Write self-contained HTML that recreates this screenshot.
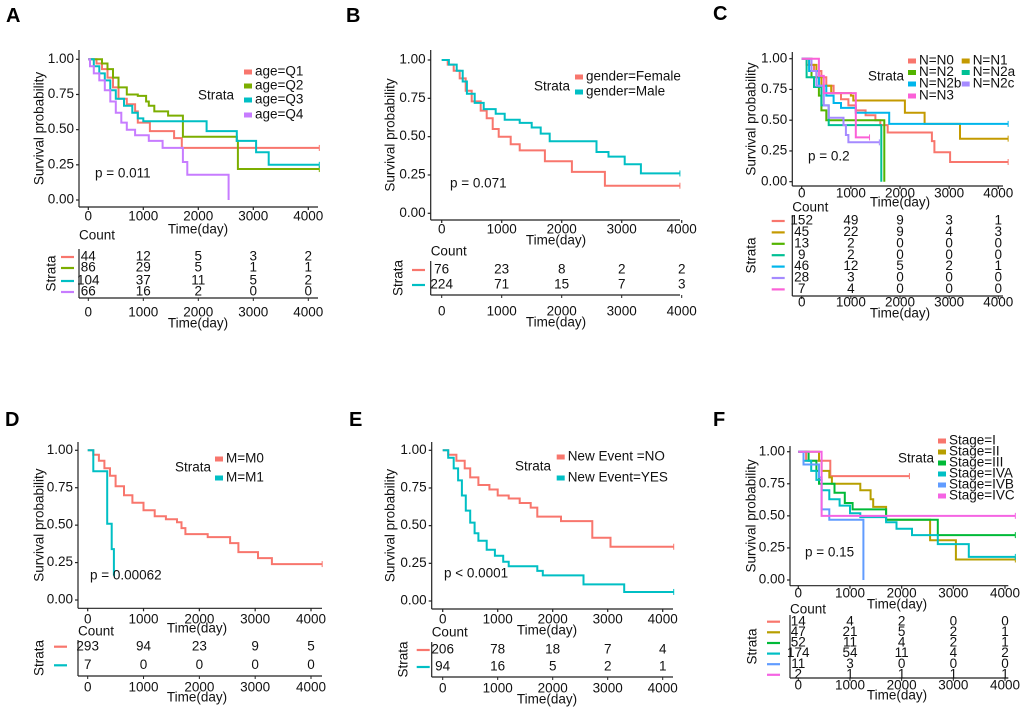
<!DOCTYPE html>
<html><head><meta charset="utf-8"><style>
html,body{margin:0;padding:0;background:#fff;}
svg{display:block;font-family:"Liberation Sans",Arial,sans-serif;}
</style></head><body>
<svg id="fig" width="1020" height="711" viewBox="0 0 1020 711" xmlns="http://www.w3.org/2000/svg"></svg>
<script>
// ---------- DATA ----------
const ticksX=[0,1000,2000,3000,4000];
const ticksXLabels=["0","1000","2000","3000","4000"];
const ticksY=[0,0.25,0.5,0.75,1];
const ticksYLabels=["0.00","0.25","0.50","0.75","1.00"];

// Panel A
const aNames=["age=Q1","age=Q2","age=Q3","age=Q4"];
const aQ1T=[0,150,250,350,450,550,700,850,900,1120,1560,1650,1700,4200];
const aQ1S=[1,0.97,0.93,0.87,0.80,0.72,0.68,0.63,0.55,0.49,0.44,0.44,0.37,0.37];
const aQ2T=[0,200,250,350,450,550,700,900,1050,1100,1200,1450,1720,2700,2720,4200];
const aQ2S=[1,1,0.97,0.93,0.87,0.80,0.75,0.74,0.70,0.67,0.63,0.60,0.45,0.42,0.22,0.22];
const aQ3T=[0,100,200,300,400,500,650,800,900,1000,2150,2700,3050,3280,4200];
const aQ3S=[1,0.95,0.90,0.85,0.78,0.72,0.67,0.62,0.58,0.56,0.49,0.42,0.34,0.25,0.25];
const aQ4T=[0,30,100,200,300,400,500,600,700,850,1100,1350,1720,1800,2550,2550];
const aQ4S=[1,0.95,0.90,0.85,0.78,0.70,0.62,0.55,0.50,0.46,0.42,0.37,0.27,0.18,0.18,0];
const aRisk=[[44,12,5,3,2],[86,29,5,1,1],[104,37,11,5,2],[66,16,2,0,0]];

// Panel B
const bNames=["gender=Female","gender=Male"];
const bFT=[0,100,200,300,400,500,650,750,850,950,1150,1300,1720,2170,2720,3970];
const bFS=[1,0.97,0.93,0.88,0.80,0.73,0.67,0.62,0.55,0.50,0.45,0.41,0.34,0.27,0.18,0.18];
const bMT=[0,120,250,350,420,550,700,900,1050,1300,1500,1650,1800,2580,2780,3050,3320,3970];
const bMS=[1,0.97,0.93,0.86,0.78,0.72,0.68,0.65,0.61,0.59,0.56,0.52,0.47,0.40,0.37,0.32,0.26,0.26];
const bRisk=[[76,23,8,2,2],[224,71,15,7,3]];

// Panel C
const cNames=["N=N0","N=N1","N=N2","N=N2a","N=N2b","N=N2c","N=N3"];
const cN0T=[0,100,250,400,500,650,800,950,1100,1300,1500,1600,1750,2650,2700,3020,4200];
const cN0S=[1,0.95,0.90,0.85,0.78,0.72,0.67,0.62,0.58,0.54,0.50,0.46,0.40,0.33,0.24,0.16,0.16];
const cN1T=[0,150,300,400,600,1000,1050,2100,2500,3220,4200];
const cN1S=[1,0.95,0.85,0.78,0.72,0.70,0.66,0.56,0.47,0.35,0.35];
const cN2T=[0,200,350,400,500,1680,1680];
const cN2S=[1,0.85,0.70,0.58,0.50,0.50,0];
const cN2aT=[0,100,250,400,550,1620,1620];
const cN2aS=[1,0.85,0.77,0.62,0.46,0.46,0];
const cN2bT=[0,150,350,500,650,800,1100,1780,4200];
const cN2bS=[1,0.90,0.78,0.70,0.64,0.60,0.56,0.47,0.47];
const cN2cT=[0,200,300,450,550,850,900,950,1580];
const cN2cS=[1,0.90,0.78,0.62,0.52,0.46,0.38,0.32,0.32];
const cN3T=[0,350,450,1100,1380];
const cN3S=[1,0.86,0.72,0.36,0.36];
const cRisk=[[152,49,9,3,1],[45,22,9,4,3],[13,2,0,0,0],[9,2,0,0,0],[46,12,5,2,1],[28,3,0,0,0],[7,4,0,0,0]];

// Panel D
const dNames=["M=M0","M=M1"];
const dM0T=[0,100,200,300,400,500,650,800,1000,1200,1400,1600,1680,1750,2150,2550,2700,3050,3300,4200];
const dM0S=[1,0.97,0.93,0.88,0.83,0.76,0.70,0.65,0.60,0.56,0.54,0.52,0.48,0.44,0.42,0.38,0.32,0.28,0.24,0.24];
const dM1T=[0,100,350,430,470,480];
const dM1S=[1,0.86,0.51,0.34,0.17,0.17];
const dRisk=[[293,94,23,9,5],[7,0,0,0,0]];

// Panel E
const eNames=["New Event =NO","New Event=YES"];
const eNoT=[0,100,250,400,500,650,850,1000,1200,1400,1600,1720,2150,2720,3050,4200];
const eNoS=[1,0.97,0.93,0.88,0.82,0.77,0.74,0.70,0.68,0.65,0.62,0.56,0.53,0.42,0.36,0.36];
const eYesT=[0,100,200,280,350,420,500,580,650,800,950,1100,1200,1720,1820,2560,3300,4200];
const eYesS=[1,0.95,0.88,0.80,0.70,0.60,0.52,0.45,0.40,0.34,0.30,0.26,0.23,0.20,0.17,0.11,0.06,0.06];
const eRisk=[[206,78,18,7,4],[94,16,5,2,1]];

// Panel F
const fNames=["Stage=I","Stage=II","Stage=III","Stage=IVA","Stage=IVB","Stage=IVC"];
const fIT=[0,150,620,2150];
const fIS=[1,0.93,0.81,0.81];
const fIIT=[0,400,450,600,650,1200,1400,1450,1700,2550,3050,4200];
const fIIS=[1,0.93,0.85,0.80,0.75,0.70,0.63,0.57,0.47,0.31,0.16,0.16];
const fIIIT=[0,200,350,400,700,900,1050,1700,2700,4200];
const fIIIS=[1,0.93,0.85,0.75,0.68,0.60,0.55,0.47,0.35,0.35];
const fIVAT=[0,100,250,350,450,600,800,1000,1200,1700,1900,2200,2700,3300,4200];
const fIVAS=[1,0.93,0.85,0.78,0.70,0.63,0.58,0.52,0.49,0.45,0.40,0.35,0.28,0.18,0.18];
const fIVBT=[0,100,400,450,600,1260,1260];
const fIVBS=[1,0.90,0.80,0.55,0.47,0.47,0];
const fIVCT=[0,450,4200];
const fIVCS=[1,0.50,0.50];
const fRisk=[[14,4,2,0,0],[47,21,5,2,1],[52,11,4,2,1],[174,54,11,4,2],[11,3,0,0,0],[2,1,1,1,1]];

// ---------- DRAWING ----------
const NS="http://www.w3.org/2000/svg";
const svg=document.getElementById('fig');
function mk(tag,attrs,parent,text){const e=document.createElementNS(NS,tag);for(const k in attrs)e.setAttribute(k,attrs[k]);if(text!==undefined)e.textContent=text;(parent||svg).appendChild(e);return e;}

const panels=[
 {id:"a",letter:"A",lx:6,ly:22,ax:79,top:50,xb:207,x0:88.3,x4:308.3,right:318,y1:59.3,y0:200,tickY:217,titleY:230,cx:198,
  countY:236,rAxTop:249,rows:[257,268,281,292],rBot:298,rTickY:313,rTitleY:324,swX:61,strX:52,
  legX:244,legRows:[72,86,100,115],legCols:null,strLX:198,strLY:96,pX:95,pY:174,ylX:40,fs:13.5,rfs:13.5,
  names:aNames,T:[aQ1T,aQ2T,aQ3T,aQ4T],S:[aQ1S,aQ2S,aQ3S,aQ4S],risk:aRisk,colors:["#F8766D","#7CAE00","#00BFC4","#C77CFF"],p:"p = 0.011"},
 {id:"b",letter:"B",lx:346,ly:22,ax:430.7,top:50,xb:220,x0:441.7,x4:681.7,right:680,y1:60,y0:213.3,tickY:230,titleY:241,cx:556,
  countY:252,rAxTop:261,rows:[270,285],rBot:295,rTickY:312,rTitleY:323,swX:412,strX:399,
  legX:575,legRows:[77,92],legCols:null,strLX:534,strLY:87,pX:450,pY:184,ylX:391,fs:13.5,rfs:13.5,
  names:bNames,T:[bFT,bMT],S:[bFS,bMS],risk:bRisk,colors:["#F8766D","#00BFC4"],p:"p = 0.071"},
 {id:"c",letter:"C",lx:713,ly:20,ax:792.3,top:52,xb:186,x0:801.7,x4:998.3,right:1003,y1:58.7,y0:181.7,tickY:194,titleY:203,cx:900,
  countY:208,rAxTop:215,rows:[221,232.4,243.8,255.2,266.6,278,289.4],rBot:296,rTickY:303,rTitleY:314,swX:771.7,strX:752,
  legX:908,legRows:[61,72.5,84,96],legCols:[908,961.7],strLX:868,strLY:77,pX:808,pY:157,ylX:752,fs:13.5,rfs:13.5,
  names:cNames,T:[cN0T,cN1T,cN2T,cN2aT,cN2bT,cN2cT,cN3T],S:[cN0S,cN1S,cN2S,cN2aS,cN2bS,cN2cS,cN3S],risk:cRisk,
  colors:["#F8766D","#C49A00","#53B400","#00C094","#00B6EB","#A58AFF","#FB61D7"],p:"p = 0.2"},
 {id:"d",letter:"D",lx:5,ly:426,ax:78,top:442,xb:608.3,x0:87.7,x4:311,right:322,y1:450.3,y0:600,tickY:620,titleY:629,cx:197,
  countY:632,rAxTop:640,rows:[646.7,665.3],rBot:676,rTickY:688,rTitleY:698,swX:54,strX:40,
  legX:215,legRows:[459,478],legCols:null,strLX:175,strLY:468,pX:90,pY:576,ylX:40,fs:13.5,rfs:13.5,
  names:dNames,T:[dM0T,dM1T],S:[dM0S,dM1S],risk:dRisk,colors:["#F8766D","#00BFC4"],p:"p = 0.00062"},
 {id:"e",letter:"E",lx:349,ly:426,ax:431.7,top:442,xb:609,x0:442.7,x4:662.7,right:673,y1:450.3,y0:601,tickY:620,titleY:631,cx:547,
  countY:633,rAxTop:642,rows:[650,667],rBot:677,rTickY:689,rTitleY:700,swX:416.7,strX:404,
  legX:556.7,legRows:[457,478],legCols:null,strLX:515,strLY:467,pX:444,pY:574,ylX:391,fs:13.5,rfs:13.5,
  names:eNames,T:[eNoT,eYesT],S:[eNoS,eYesS],risk:eRisk,colors:["#F8766D","#00BFC4"],p:"p < 0.0001"},
 {id:"f",letter:"F",lx:713,ly:426,ax:790,top:446,xb:585.7,x0:798.3,x4:1005,right:1008.3,y1:451.7,y0:580,tickY:594,titleY:605,cx:897,
  countY:610,rAxTop:615,rows:[621.7,632.3,643,653.6,664.2,674.8],rBot:678,rTickY:686,rTitleY:696,swX:767,strX:753,
  legX:938,legRows:[441,452,463,474,485,496],legCols:null,strLX:898,strLY:459,pX:805,pY:553,ylX:752,fs:13.5,rfs:13.5,
  names:fNames,T:[fIT,fIIT,fIIIT,fIVAT,fIVBT,fIVCT],S:[fIS,fIIS,fIIIS,fIVAS,fIVBS,fIVCS],risk:fRisk,
  colors:["#F8766D","#B79F00","#00BA38","#00BFC4","#619CFF","#F564E3"],p:"p = 0.15"}
];

panels.forEach(P=>{
  const g=mk('g',{});
  
  
  const xs=t=>P.x0+(P.x4-P.x0)*t/4000;
  const ys=s=>P.y0-(P.y0-P.y1)*s;
  const lt=mk('text',{x:P.lx,y:P.ly,'font-size':20,'font-weight':'bold',fill:'#000'},g,P.letter);
  
  
  const axes=mk('g',{stroke:'#222','stroke-width':1.2},g);
  
  
  mk('line',{x1:P.ax,y1:P.top,x2:P.ax,y2:P.xb},axes);
  mk('line',{x1:P.ax,y1:P.xb,x2:P.right,y2:P.xb},axes);
  ticksY.forEach((v,i)=>{
    mk('line',{x1:P.ax-3,x2:P.ax,y1:ys(v),y2:ys(v)},axes);
    const t=mk('text',{x:P.ax-5,y:ys(v),'font-size':P.fs,'text-anchor':'end','dominant-baseline':'middle',fill:'#111',stroke:'none'},g,ticksYLabels[i]);
    
    
  });
  ticksX.forEach((v,i)=>{
    mk('line',{x1:xs(v),x2:xs(v),y1:P.xb,y2:P.xb+3},axes);
    const t=mk('text',{x:xs(v),y:P.tickY,'font-size':P.fs,'text-anchor':'middle','dominant-baseline':'middle',fill:'#111'},g,ticksXLabels[i]);
    
    
  });
  const xt=mk('text',{x:P.cx,y:P.titleY,'font-size':P.fs,'text-anchor':'middle','dominant-baseline':'middle',fill:'#111'},g,'Time(day)');
  
  
  const yc=(P.top+P.xb)/2;
  const yt=mk('text',{x:P.ylX,y:yc,'font-size':P.fs,'text-anchor':'middle','dominant-baseline':'middle',fill:'#111',transform:`rotate(-90 ${P.ylX} ${yc})`},g,'Survival probability');
  
  
  P.T.forEach((T,k)=>{
    const S=P.S[k];
    let d=`M${xs(T[0]).toFixed(1)},${ys(S[0]).toFixed(1)}`;
    for(let i=1;i<T.length;i++){d+=`H${xs(T[i]).toFixed(1)}V${ys(S[i]).toFixed(1)}`;}
    const path=mk('path',{d:d,fill:'none',stroke:P.colors[k],'stroke-width':2},g);
    
    
    const ex=xs(T[T.length-1]),ey=ys(S[S.length-1]);
    if(S[S.length-1]>0){
      const cm=mk('line',{x1:ex,x2:ex,y1:ey-3,y2:ey+3,stroke:P.colors[k],'stroke-width':1},g);
      
      
    }
  });
  const pv=mk('text',{x:P.pX,y:P.pY,'font-size':P.fs,'dominant-baseline':'middle',fill:'#111'},g,P.p);
  
  
  const sl=mk('text',{x:P.strLX,y:P.strLY,'font-size':P.fs,'dominant-baseline':'middle',fill:'#111'},g,'Strata');
  
  
  P.names.forEach((n,k)=>{
    let lx,ly;
    if(P.legCols){const col=(k===1||k===3||k===5)?1:0;const order=[0,0,1,1,2,2,3];lx=P.legCols[col];ly=P.legRows[order[k]];}
    else{lx=P.legX;ly=P.legRows[k];}
    const lg=mk('g',{},g);
    
    
    mk('rect',{x:lx,y:ly-2.5,width:8,height:5,fill:P.colors[k]},lg);
    mk('text',{x:lx+11,y:ly,'font-size':P.fs,'dominant-baseline':'middle',fill:'#111'},lg,n);
  });
  const ct=mk('text',{x:P.ax,y:P.countY,'font-size':P.fs,'dominant-baseline':'middle',fill:'#111'},g,'Count');
  
  
  mk('line',{x1:P.ax,y1:P.rAxTop,x2:P.ax,y2:P.rBot,stroke:'#222','stroke-width':1.2},g);
  mk('line',{x1:P.ax,y1:P.rBot,x2:P.right,y2:P.rBot,stroke:'#222','stroke-width':1.2},g);
  ticksX.forEach((v,i)=>{
    mk('line',{x1:xs(v),x2:xs(v),y1:P.rBot,y2:P.rBot+3,stroke:'#222'},g);
    const t=mk('text',{x:xs(v),y:P.rTickY,'font-size':P.fs,'text-anchor':'middle','dominant-baseline':'middle',fill:'#111'},g,ticksXLabels[i]);
    
    
  });
  const rt=mk('text',{x:P.cx,y:P.rTitleY,'font-size':P.fs,'text-anchor':'middle','dominant-baseline':'middle',fill:'#111'},g,'Time(day)');
  
  
  const sc=(P.rAxTop+P.rBot)/2;
  const st=mk('text',{x:P.strX,y:sc,'font-size':P.fs,'text-anchor':'middle','dominant-baseline':'middle',fill:'#111',transform:`rotate(-90 ${P.strX} ${sc})`},g,'Strata');
  
  
  P.risk.forEach((row,k)=>{
    const y=P.rows[k];
    const sw=mk('line',{x1:P.swX,x2:P.swX+13,y1:y,y2:y,stroke:P.colors[k],'stroke-width':2.2},g);
    
    
    row.forEach((v,i)=>{
      const t=mk('text',{x:xs(ticksX[i]),y:y,'font-size':P.rfs,'text-anchor':'middle','dominant-baseline':'middle',fill:'#111'},g,String(v));
      
      
    });
  });
});
</script>
</body></html>
